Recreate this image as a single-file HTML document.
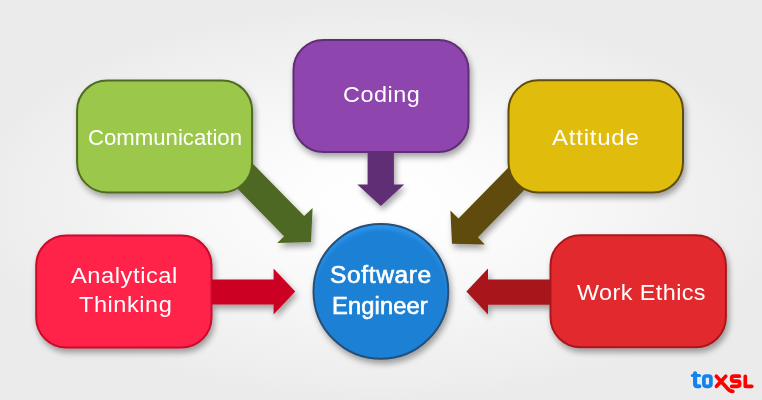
<!DOCTYPE html>
<html><head><meta charset="utf-8">
<style>
html,body{margin:0;padding:0;}
body{width:762px;height:400px;overflow:hidden;position:relative;font-family:"Liberation Sans",sans-serif;
background:#ebebeb radial-gradient(ellipse 410px 197px at 381px 203px,rgb(255,255,255) 0%,rgb(254,254,254) 10%,rgb(253,253,253) 20%,rgb(251,251,251) 30%,rgb(249,249,249) 40%,rgb(247,247,247) 50%,rgb(245,245,245) 60%,rgb(242,242,242) 70%,rgb(240,240,240) 80%,rgb(238,238,238) 90%,rgb(235,235,235) 100%);}
svg{position:absolute;left:0;top:0;}
.l{position:absolute;color:#fff;font-size:23px;line-height:1;white-space:nowrap;transform-origin:0 0;}
.l.b{-webkit-text-stroke:0.6px #fff;}
</style></head><body>
<svg width="762" height="400" viewBox="0 0 762 400">
<defs>
<filter id="sh" x="-20%" y="-20%" width="140%" height="150%">
<feGaussianBlur in="SourceAlpha" stdDeviation="3.4"/>
<feOffset dx="1.5" dy="4"/>
<feComponentTransfer><feFuncA type="linear" slope="0.36"/></feComponentTransfer>
<feMerge><feMergeNode/><feMergeNode in="SourceGraphic"/></feMerge>
</filter>
<clipPath id="cc"><circle cx="380.900" cy="291.400" r="67.400"/></clipPath>
<filter id="bl" x="-10%" y="-10%" width="120%" height="120%"><feGaussianBlur stdDeviation="2.2"/></filter>
</defs>
<!-- arrows -->
<g filter="url(#sh)">
<polygon fill="#4d6820" points="245,155.700 304.100,216 312.600,208.100 311,241.900 277.250,243.100 284.100,236.250 225,176"/>
<polygon fill="#612e74" points="367.600,148 393.900,148 393.900,184.500 404.200,184.500 380.800,206 357.300,184.500 367.600,184.500"/>
<polygon fill="#5e4c09" points="517,158.800 458.500,218.500 450.400,210.600 452,243.750 484.750,244.400 477.900,237.250 536.500,177.450"/>
<polygon fill="#cc0024" points="205,279.400 273.600,279.400 273.600,268.400 295.200,291.600 273.600,314.400 273.600,304.400 205,304.400"/>
<polygon fill="#a8181c" points="557,279.400 488,279.400 488,268.600 466.400,291.600 488,314.600 488,304.800 557,304.800"/>
<!-- boxes -->
<g stroke-width="2">
<rect x="77.100" y="80.400" width="175" height="112" rx="30" fill="#9bc84b" stroke="#4f6b20"/>
<rect x="293.500" y="40" width="175" height="112" rx="30" fill="#8e44ad" stroke="#612e74"/>
<rect x="508.500" y="80.300" width="174.500" height="112.200" rx="30" fill="#e0bd10" stroke="#5e4c09"/>
<rect x="36.200" y="235.500" width="175.300" height="112" rx="30" fill="#ff2249" stroke="#c80a2c"/>
<rect x="550.500" y="235.300" width="175.400" height="112" rx="30" fill="#e22b2f" stroke="#a8181c"/>
<circle cx="380.900" cy="291.400" r="67.400" fill="#2f94ec" stroke="none"/>
<g clip-path="url(#cc)"><circle cx="380.900" cy="297.400" r="68.400" fill="#1a80d5" stroke="none" filter="url(#bl)"/></g>
<circle cx="380.900" cy="291.400" r="67.400" fill="none" stroke="#254f78"/>
</g>
</g>
<!-- logo -->
<g fill="none" stroke-linecap="round" stroke-linejoin="round" stroke-width="3.7">
<path stroke="#1283ee" stroke-width="4.1" d="M695.100,373.300 V384 Q695.100,386.300 697.400,386.300 H699.300"/>
<path stroke="#1283ee" stroke-width="3.200" d="M692.400,375.500 H699.500"/>
<rect stroke="#1283ee" x="703.900" y="376" width="7" height="10.300" rx="2.200"/>
<path stroke="#ff0000" d="M716.300,376.300 L726.800,387.800 Q729.500,391.300 732.800,391.300 M725.800,376.300 L716.500,386.300"/>
<path stroke="#ff0000" d="M739.300,376.200 H733.700 Q731.600,376.200 731.600,378.700 Q731.600,381.200 733.700,381.200 H737.600 Q739.700,381.200 739.700,383.800 Q739.700,386.300 737.600,386.300 H731.700"/>
<path stroke="#ff0000" d="M745.300,376.300 V386.300 H751.800"/>
</g>
</svg>
<span class="l" style="font-size:22.6px;left:87.5px;top:126.6px;transform:scaleX(0.981);">Communication</span>
<span class="l" style="font-size:22.6px;left:342.8px;top:84.1px;letter-spacing:0.51px;transform:scaleX(1.036);">Coding</span>
<span class="l" style="font-size:22.6px;left:552.3px;top:127.1px;letter-spacing:0.71px;transform:scaleX(1.065);">Attitude</span>
<span class="l" style="font-size:22.6px;left:70.8px;top:264.5px;letter-spacing:0.52px;transform:scaleX(1.049);">Analytical</span>
<span class="l" style="font-size:22.6px;left:78.9px;top:294.2px;letter-spacing:0.51px;transform:scaleX(1.043);">Thinking</span>
<span class="l b" style="font-size:23.5px;left:329.9px;top:264.3px;letter-spacing:0.59px;transform:scaleX(1.045);">Software</span>
<span class="l b" style="font-size:23.5px;left:332.1px;top:294.6px;letter-spacing:0.11px;transform:scaleX(1.009);">Engineer</span>
<span class="l" style="font-size:22.6px;left:577.3px;top:282.2px;letter-spacing:0.41px;transform:scaleX(1.035);">Work Ethics</span>
</body></html>
